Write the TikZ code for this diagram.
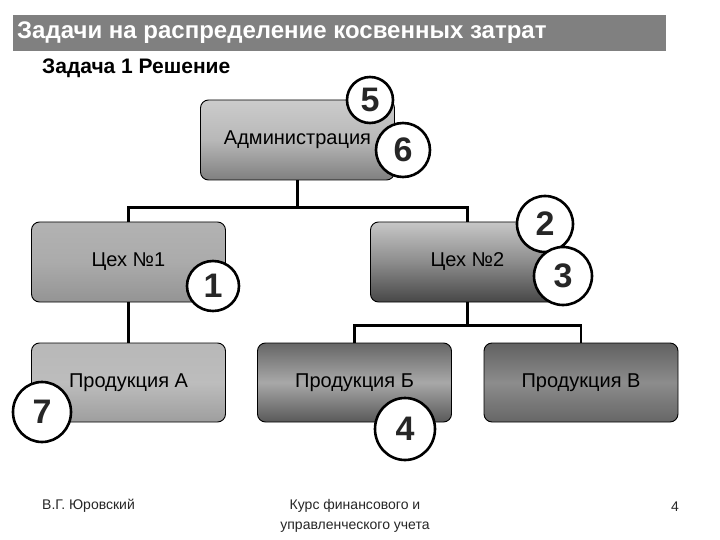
\documentclass[tikz,border=0pt]{standalone}
\usepackage{fontspec}
\setmainfont{Liberation Sans}
\usetikzlibrary{shapes.geometric}
\begin{document}
\begin{tikzpicture}[x=1pt,y=-1pt,
  box/.style={draw=black,line width=0.9pt,rounded corners=8pt,rectangle,
    minimum width=194pt,minimum height=80pt,inner sep=0pt,
    font=\fontsize{20}{22}\selectfont,text=black},
  conn/.style={draw=black,line width=2.3pt},
  num/.style={ellipse,draw=black,fill=white,line width=2.6pt,inner sep=0pt,
    font=\fontsize{34}{36}\selectfont\bfseries,text=black!85}
]
\useasboundingbox (0,0) rectangle (720,540);
\fill[white] (0,0) rectangle (720,540);
% title
\node[fill=black!50,minimum width=653pt,minimum height=36pt,inner sep=0pt,anchor=north west] (bar) at (13,15) {};
\node[anchor=west,text=white,font=\fontsize{24}{26}\selectfont\bfseries,inner sep=0pt] (title) at (17,33) {Задачи на распределение косвенных затрат};
\node[anchor=west,font=\fontsize{21}{23}\selectfont\bfseries,inner sep=0pt] (sub) at (42,68) {Задача 1 Решение};
% boxes
\node[box,top color=black!20,bottom color=black!50,middle color=black!28] (adm) at (297.5,140) {Администрация};
\node[box,top color=black!30,bottom color=black!42,middle color=black!33] (c1) at (128.5,262) {Цех №1};
\node[box,top color=black!22,bottom color=black!72,middle color=black!45] (c2) at (467.5,262) {Цех №2};
\node[box,minimum height=79pt,top color=black!28,bottom color=black!38,middle color=black!26] (pa) at (128.5,382.5) {Продукция А};
\node[box,minimum height=79pt,top color=black!60,bottom color=black!65,middle color=black!34] (pb) at (354.5,382.5) {Продукция Б};
\node[box,minimum height=79pt,top color=black!62,bottom color=black!60,middle color=black!45] (pv) at (581,382.5) {Продукция В};
% connectors
\draw[conn] (adm.south) -- ++(0,27) coordinate (h1) -| (c1.north);
\draw[conn] (h1) -| (c2.north);
\draw[conn] (c1.south) -- (pa.north);
\draw[conn] (c2.south) -- ++(0,23) coordinate (h2) -| (pb.north);
\draw[conn] (h2) -| (pv.north);
% numbers
\node[num,minimum width=46pt,minimum height=46pt] (n5) at (370,100) {5};
\node[num,minimum width=54pt,minimum height=54pt] (n6) at (403,150) {6};
\node[num,minimum width=56pt,minimum height=56pt] (n2) at (545,224) {2};
\node[num,minimum width=58pt,minimum height=58pt] (n3) at (563,276) {3};
\node[num,minimum width=52pt,minimum height=50pt] (n1) at (213,286) {1};
\node[num,minimum width=58pt,minimum height=60pt] (n7) at (42,412) {7};
\node[num,minimum width=60pt,minimum height=62pt] (n4) at (405,429) {4};
% footer
\node[anchor=west,font=\fontsize{14}{16}\selectfont,text=black!85,inner sep=0pt] (f1) at (42,506) {В.Г. Юровский};
\node[align=center,font=\fontsize{14}{20}\selectfont,text=black!85,inner sep=0pt] (f2) at (355,516) {Курс финансового и\\управленческого учета};
\node[font=\fontsize{14}{16}\selectfont,text=black!85,inner sep=0pt] (f3) at (675,507) {4};
\end{tikzpicture}
\end{document}
